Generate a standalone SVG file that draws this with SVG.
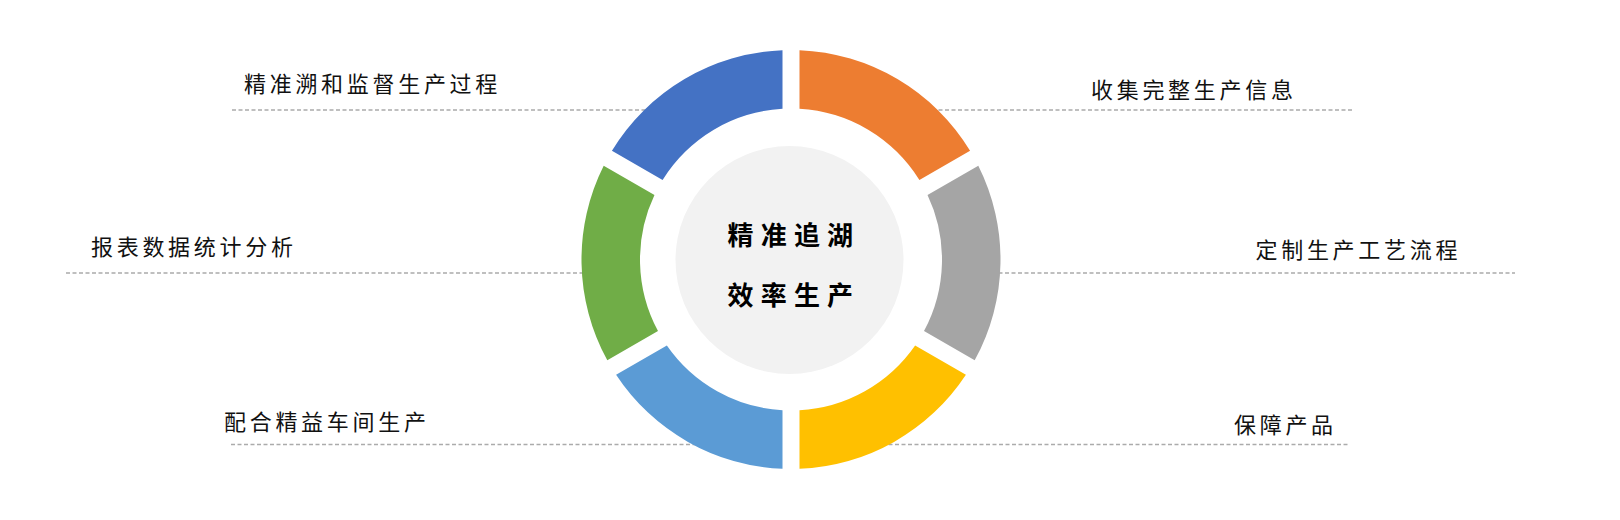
<svg xmlns="http://www.w3.org/2000/svg" width="1620" height="520" viewBox="0 0 1620 520">
  <style>
    .lbl { font-family: "Noto Sans CJK SC", "Noto Sans", sans-serif; font-size: 22px; fill: #111111; letter-spacing: 3.7px; }
    .ctr { font-family: "Noto Sans CJK SC", "Noto Sans", sans-serif; font-size: 26px; font-weight: 700; fill: #000000; letter-spacing: 7.2px; }
    .dash { stroke: #ababab; stroke-width: 1.3; stroke-dasharray: 4 2.5; fill: none; }
  </style>
  <rect width="1620" height="520" fill="#ffffff"/>
  <g id="connectors">
    <line class="dash" x1="232" y1="110" x2="650" y2="110"/>
    <line class="dash" x1="932" y1="110" x2="1353" y2="110"/>
    <line class="dash" x1="66" y1="273" x2="590" y2="273"/>
    <line class="dash" x1="992" y1="273" x2="1515" y2="273"/>
    <line class="dash" x1="231" y1="444.5" x2="700" y2="444.5"/>
    <line class="dash" x1="882" y1="444.5" x2="1349" y2="444.5"/>
  </g>
  <g id="seg-orange">
    <path d="M799.5,50.17 A209.5,209.5 0 0 1 970.08,150.79 L919.41,180.05 A151,151 0 0 0 799.5,108.74 Z" fill="#ED7D31"/>
  </g>
  <g id="seg-gray">
    <path d="M978.31,165.67 A209.5,209.5 0 0 1 974.69,360.24 L924.01,330.98 A151,151 0 0 0 927.53,194.99 Z" fill="#A5A5A5"/>
  </g>
  <g id="seg-yellow">
    <path d="M965.91,374.8 A209.5,209.5 0 0 1 799.5,468.83 L799.5,410.26 A151,151 0 0 0 915.13,345.48 Z" fill="#FFC000"/>
  </g>
  <g id="seg-lightblue">
    <path d="M782.5,468.83 A209.5,209.5 0 0 1 616.09,374.8 L666.87,345.48 A151,151 0 0 0 782.5,410.26 Z" fill="#5B9BD5"/>
  </g>
  <g id="seg-green">
    <path d="M607.31,360.24 A209.5,209.5 0 0 1 603.69,165.67 L654.47,194.99 A151,151 0 0 0 657.99,330.98 Z" fill="#70AD47"/>
  </g>
  <g id="seg-blue">
    <path d="M611.92,150.79 A209.5,209.5 0 0 1 782.5,50.17 L782.5,108.74 A151,151 0 0 0 662.59,180.05 Z" fill="#4472C4"/>
  </g>
  <g id="center">
    <circle cx="789.5" cy="260" r="114" fill="#F2F2F2"/>
    <text class="ctr" x="727.5" y="245">精准追湖</text>
    <text class="ctr" x="727.5" y="305">效率生产</text>
  </g>
  <g id="label-1"><text class="lbl" x="244" y="92">精准溯和监督生产过程</text></g>
  <g id="label-2"><text class="lbl" x="1091" y="98">收集完整生产信息</text></g>
  <g id="label-3"><text class="lbl" x="91" y="254.5">报表数据统计分析</text></g>
  <g id="label-4"><text class="lbl" x="1255.5" y="258">定制生产工艺流程</text></g>
  <g id="label-5"><text class="lbl" x="224" y="429.5">配合精益车间生产</text></g>
  <g id="label-6"><text class="lbl" x="1234" y="432.5">保障产品</text></g>
</svg>
